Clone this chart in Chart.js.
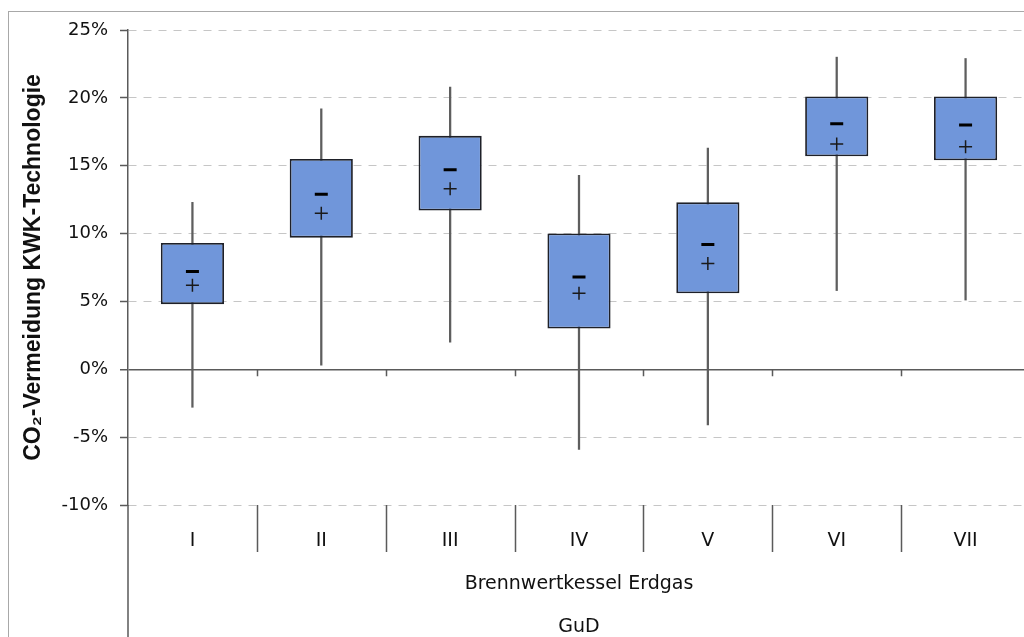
<!DOCTYPE html>
<html>
<head>
<meta charset="utf-8">
<title>CO₂-Vermeidung KWK-Technologie</title>
<script src="https://cdn.jsdelivr.net/npm/chart.js@4/dist/chart.umd.min.js"></script>
<style>
  html, body { margin: 0; padding: 0; background: #fff; overflow: hidden; width: 1024px; height: 637px; }
  #frame { position: absolute; left: 8px; top: 11px; width: 1100px; height: 700px; border: 1px solid #a8a8a8; box-sizing: border-box; }
  #chart { position: absolute; left: 0; top: 0; }
</style>
</head>
<body>
<div id="frame"></div>
<canvas id="chart" width="1040" height="650"></canvas>
<script>
// Technology variants (Roman numerals) compared against a condensing gas boiler and a CCGT plant
const categories = ['I', 'II', 'III', 'IV', 'V', 'VI', 'VII'];

// CO2 avoidance in percent
const whiskerLow  = [-2.8, 0.3, 2.0, -5.9, -4.1, 5.8, 5.1];
const quartileLow = [4.8, 9.7, 11.7, 3.0, 5.6, 15.7, 15.4];
const quartileHigh = [9.3, 15.5, 17.2, 10.0, 12.3, 20.1, 20.1];
const whiskerHigh = [12.3, 19.2, 20.8, 14.3, 16.3, 23.0, 22.9];
const medianValues = [7.2, 12.9, 14.7, 6.8, 9.2, 18.1, 18.0];
const meanValues   = [6.2, 11.5, 13.3, 5.6, 7.8, 16.6, 16.4];

const yTicks = [-10, -5, 0, 5, 10, 15, 20, 25];
const yTitle = 'CO₂-Vermeidung KWK-Technologie';
const xTitleLines = ['Brennwertkessel Erdgas', 'GuD'];

const AXIS_COLOR = '#5a5a5a';

// Category separators below the plot, small ticks on the zero line and the
// downward extension of the value axis (multi-level category axis look).
const categoryFurniture = {
  id: 'categoryFurniture',
  beforeDatasetsDraw(chart) {
    const { ctx, scales: { x, y } } = chart;
    const y0 = y.getPixelForValue(0);
    ctx.save();
    ctx.strokeStyle = AXIS_COLOR;
    ctx.lineWidth = 1.5;
    ctx.beginPath();
    for (let i = 1; i < categories.length; i++) {
      const xb = Math.round(x.getPixelForValue(i - 0.5)) + 0.5;
      ctx.moveTo(xb, y0);
      ctx.lineTo(xb, y0 + 7);
    }
    ctx.stroke();
    ctx.restore();
  },
  afterDraw(chart) {
    const { ctx, chartArea, scales: { x } } = chart;
    ctx.save();
    ctx.strokeStyle = AXIS_COLOR;
    ctx.lineWidth = 1.5;
    ctx.beginPath();
    for (let i = 1; i <= categories.length; i++) {
      const xb = Math.round(x.getPixelForValue(i - 0.5)) + 0.5;
      ctx.moveTo(xb, chartArea.bottom);
      ctx.lineTo(xb, chartArea.bottom + 47);
    }
    const xl = chartArea.left;
    ctx.moveTo(xl, chartArea.bottom);
    ctx.lineTo(xl, chart.height);
    ctx.stroke();
    ctx.restore();
  }
};

const pairs = (lo, hi) => categories.map((_, i) => [lo[i], hi[i]]);

new Chart(document.getElementById('chart'), {
  data: {
    labels: categories,
    datasets: [
      {
        type: 'line',
        label: 'Median',
        data: medianValues,
        showLine: false,
        pointStyle: 'line',
        pointRadius: 6.5,
        pointBorderWidth: 3,
        pointBorderColor: '#000',
        pointBackgroundColor: '#000',
        order: 1
      },
      {
        type: 'line',
        label: 'Mittelwert',
        data: meanValues,
        showLine: false,
        pointStyle: 'cross',
        pointRadius: 6.5,
        pointBorderWidth: 1.5,
        pointBorderColor: '#1a1a1a',
        order: 1
      },
      {
        type: 'bar',
        label: 'Quartile',
        data: pairs(quartileLow, quartileHigh),
        backgroundColor: '#7096da',
        borderColor: '#1e2028',
        borderWidth: 1.8,
        borderSkipped: false,
        grouped: false,
        barPercentage: 0.49,
        categoryPercentage: 1,
        order: 2
      },
      {
        type: 'bar',
        label: 'Spannweite',
        data: pairs(whiskerLow, whiskerHigh),
        backgroundColor: '#5e5e5e',
        borderWidth: 0,
        grouped: false,
        barThickness: 1.6,
        order: 3
      }
    ]
  },
  options: {
    responsive: false,
    animation: false,
    events: [],
    layout: { padding: { top: 30, right: 10, left: 0, bottom: 0 } },
    plugins: {
      legend: { display: false },
      tooltip: { enabled: false }
    },
    scales: {
      x: {
        type: 'category',
        offset: true,
        grid: { display: false },
        border: { display: false },
        ticks: {
          padding: 17,
          color: '#111',
          font: { family: 'DejaVu Sans', size: 19 }
        },
        title: {
          display: true,
          text: xTitleLines,
          color: '#111',
          font: { family: 'DejaVu Sans', size: 19, lineHeight: 43 / 19 },
          padding: { top: 0, bottom: 1.5 }
        },
        afterFit(scale) { scale.height = 145; }
      },
      y: {
        min: -10,
        max: 25,
        afterBuildTicks(scale) { scale.ticks = yTicks.map(v => ({ value: v })); },
        ticks: {
          padding: 12,
          color: '#111',
          font: { family: 'DejaVu Sans', size: 18 },
          callback: v => v + '%'
        },
        grid: {
          color: c => (c.tick && c.tick.value === 0) ? AXIS_COLOR : '#c6c6c6',
          lineWidth: c => (c.tick && c.tick.value === 0) ? 1.5 : 1,
          tickLength: 8,
          tickColor: AXIS_COLOR,
          tickWidth: 1.5
        },
        border: {
          display: true,
          color: AXIS_COLOR,
          width: 1.5,
          dash: c => (c.tick && c.tick.value !== 0) ? [8, 7] : []
        },
        title: {
          display: true,
          text: yTitle,
          color: '#111',
          font: { family: 'Liberation Sans', size: 23, weight: 'bold' },
          padding: { top: 20, bottom: 0 }
        },
        afterFit(scale) { scale.width = 128; }
      }
    }
  },
  plugins: [categoryFurniture]
});
</script>
</body>
</html>
